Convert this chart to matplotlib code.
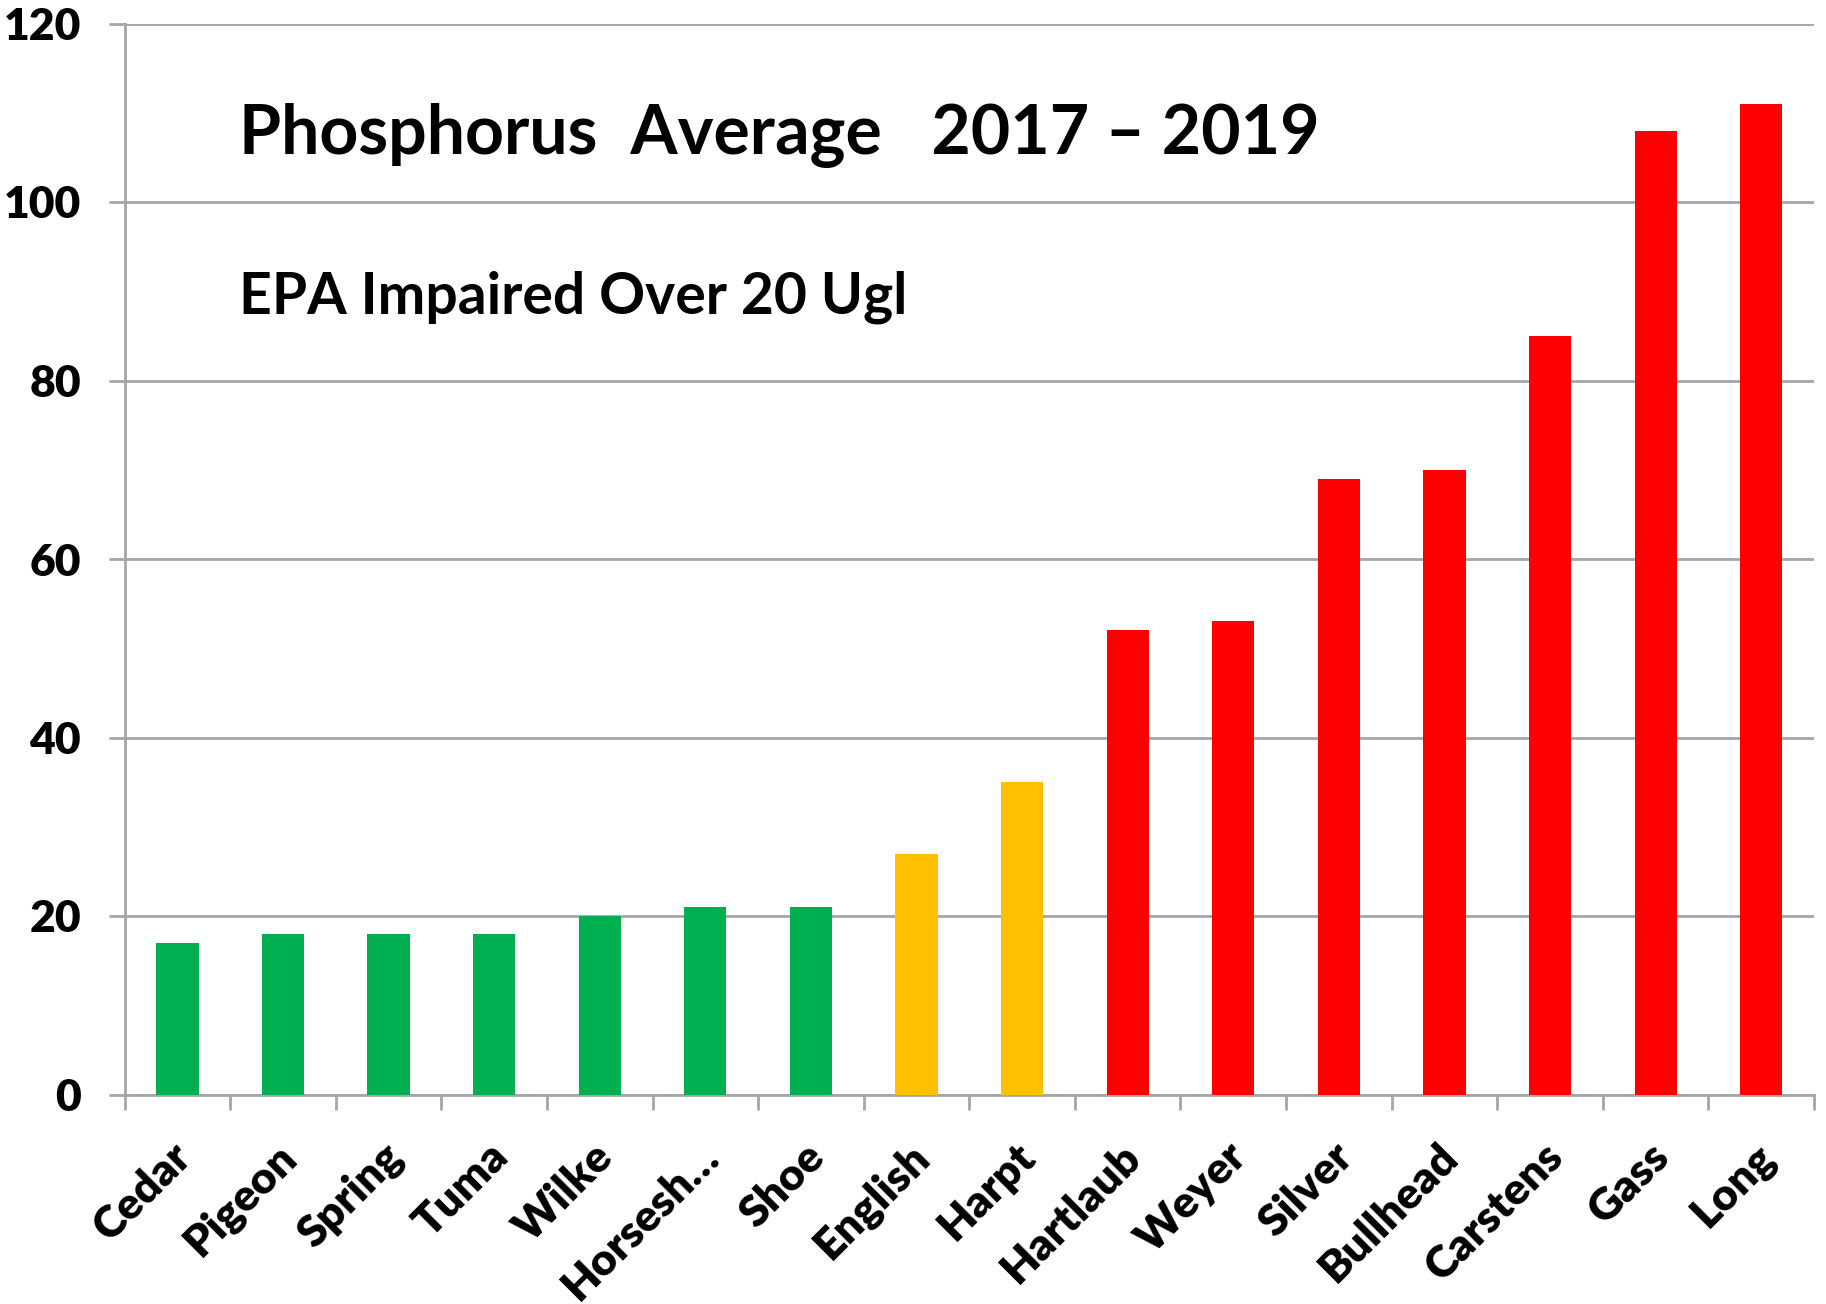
import matplotlib
matplotlib.use("Agg")
import matplotlib.pyplot as plt

plt.rcParams['font.family'] = ['Lato', 'DejaVu Sans']
plt.rcParams['font.weight'] = 'bold'

# datos
lakes = ["Cedar", "Pigeon", "Spring", "Tuma", "Wilke", "Horsesh\u2026", "Shoe",
         "English", "Harpt", "Hartlaub", "Weyer", "Silver", "Bullhead",
         "Carstens", "Gass", "Long"]
phosphorus = [17, 18, 18, 18, 20, 21, 21, 27, 35, 52, 53, 69, 70, 85, 108, 111]
status = ["ok"] * 7 + ["warn"] * 2 + ["bad"] * 7
colores = {"ok": "#00B050", "warn": "#FFC000", "bad": "#FF0000"}
y_ticks = [0, 20, 40, 60, 80, 100, 120]

grid_color = "#A6A6A6"

fig = plt.figure(figsize=(18.26, 13.04), dpi=100)
ax = fig.add_axes([124.6 / 1826, 1 - 1094.5 / 1304, (1814 - 124.6) / 1826, (1094.5 - 23.5) / 1304])

x = range(len(lakes))
ax.bar(x, phosphorus, width=0.4, color=[colores[s] for s in status], zorder=3)

ax.set_xlim(-0.5, len(lakes) - 0.5)
ax.set_ylim(0, 120)
ax.set_yticks(y_ticks)
ax.set_yticklabels([str(v) for v in y_ticks], fontsize=32, fontweight='heavy')
ax.yaxis.grid(True, color=grid_color, linewidth=2, zorder=0)
ax.tick_params(axis='y', length=11.5, width=2, color=grid_color, pad=20)

# marcas entre categorias
ax.set_xticks([i - 0.5 for i in range(len(lakes) + 1)])
ax.set_xticklabels([])
ax.tick_params(axis='x', length=11, width=2, color=grid_color)
for i, name in enumerate(lakes):
    ax.annotate(name, xy=(i, 0), xycoords='data', xytext=(5, -40),
                textcoords='offset points', rotation=45, ha='right', va='center',
                rotation_mode='anchor', fontsize=32, fontweight='heavy')

for side in ['top', 'right']:
    ax.spines[side].set_visible(False)
for side in ['left', 'bottom']:
    ax.spines[side].set_color(grid_color)
    ax.spines[side].set_linewidth(2)

fig.text(239 / 1826, 1 - 136 / 1304, "Phosphorus  Average   2017 \u2013 2019",
         fontsize=49, fontweight='bold', va='center', ha='left')
fig.text(239 / 1826, 1 - 297 / 1304, "EPA Impaired Over 20 Ugl",
         fontsize=41, fontweight='bold', va='center', ha='left')

fig.savefig("out.png", dpi=100)
